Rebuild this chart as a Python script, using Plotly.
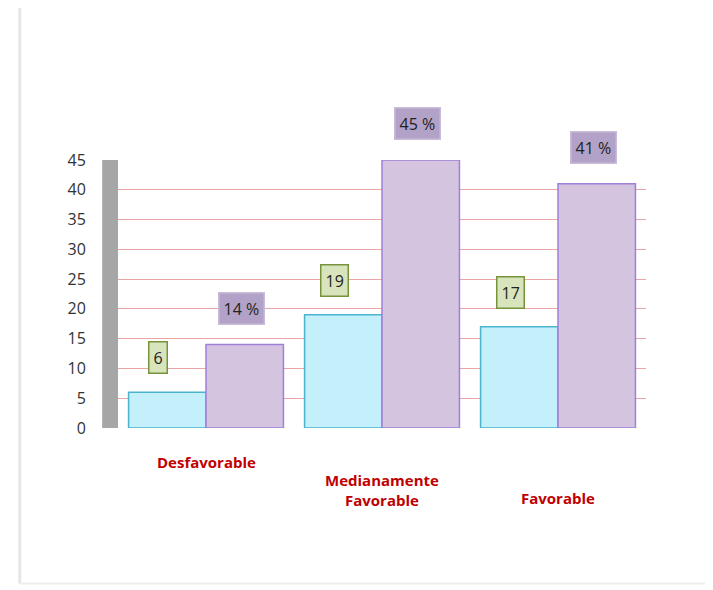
import plotly.graph_objects as go

categories = ["Desfavorable", "Medianamente<br>Favorable", "Favorable"]
counts = [6, 19, 17]
percents = [14, 45, 41]
count_labels = ["6", "19", "17"]
percent_labels = ["14 %", "45 %", "41 %"]
y_ticks = [0, 5, 10, 15, 20, 25, 30, 35, 40, 45]

x_idx = list(range(len(categories)))

fig = go.Figure()
fig.add_trace(go.Bar(
    x=x_idx, y=counts, name="Frecuencia",
    marker=dict(color="#c4f0fc", line=dict(color="#4bb3cc", width=1.5)),
    hoverinfo="y",
))
fig.add_trace(go.Bar(
    x=x_idx, y=percents, name="Porcentaje",
    marker=dict(color="#d4c4e0", line=dict(color="#9f7fd8", width=1.5)),
    hoverinfo="y",
))

annotations = []
for i, (c, lab) in enumerate(zip(counts, count_labels)):
    annotations.append(dict(
        x=i - 0.27, y=c, xref="x", yref="y", text=lab, showarrow=False,
        yanchor="bottom", yshift=18,
        font=dict(family="Open Sans", size=16, color="#222"),
        bgcolor="#d8e4bc", bordercolor="#77933c", borderwidth=1.5, borderpad=4,
    ))
for i, (p, lab) in enumerate(zip(percents, percent_labels)):
    annotations.append(dict(
        x=i + 0.2, y=p, xref="x", yref="y", text=lab, showarrow=False,
        yanchor="bottom", yshift=20,
        font=dict(family="Open Sans", size=16, color="#222"),
        bgcolor="#b3a2c7", bordercolor="#c8bcd8", borderwidth=1.5, borderpad=4,
    ))
for i, cat in enumerate(categories):
    annotations.append(dict(
        x=i, y=0, xref="x", yref="y", text="<b>" + cat + "</b>", showarrow=False,
        yanchor="top", yshift=-22 - 18 * i,
        font=dict(family="Open Sans", size=15, color="#c00000"),
    ))

fig.update_layout(
    width=713, height=590,
    paper_bgcolor="white", plot_bgcolor="white",
    margin=dict(l=110, r=75, t=152, b=170),
    barmode="group", bargap=0.12, bargroupgap=0.0,
    showlegend=False,
    annotations=annotations,
    shapes=[
        dict(type="rect", xref="paper", yref="y", x0=-0.03, x1=0.0, y0=0, y1=45,
             fillcolor="#a6a6a6", line=dict(width=0), layer="below"),
        dict(type="line", xref="paper", yref="paper", x0=-0.186, x1=-0.186, y0=1.6, y1=-0.58,
             line=dict(color="#e6e6e6", width=3)),
        dict(type="line", xref="paper", yref="paper", x0=-0.186, x1=1.2, y0=-0.58, y1=-0.58,
             line=dict(color="#eeeeee", width=2)),
    ],
)
fig.update_xaxes(
    tickvals=x_idx, ticktext=["", "", ""], showgrid=False, zeroline=False,
    range=[-0.5, 2.5], showline=False,
)
fig.update_yaxes(
    range=[0, 45], tickvals=y_ticks, showgrid=True, gridcolor="#eaa6a6", gridwidth=1,
    zeroline=False, showline=False,
    tickfont=dict(family="Open Sans", size=16, color="#333"),
    ticks="outside", ticklen=28, tickcolor="rgba(0,0,0,0)",
)

fig.write_html("out.html")
